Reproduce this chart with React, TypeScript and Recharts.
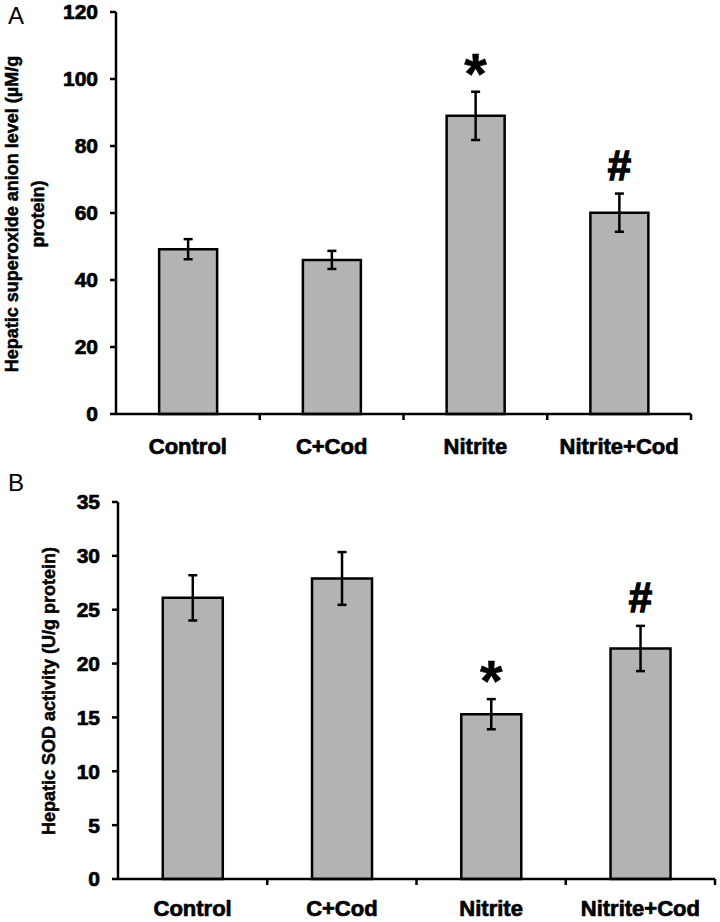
import { BarChart, Bar, XAxis, YAxis, ErrorBar, LabelList } from "recharts";

const groups = ["Control", "C+Cod", "Nitrite", "Nitrite+Cod"];

// panel A: hepatic superoxide anion level
const superoxide = [49.2, 46.0, 89.0, 60.1];
const superoxideErr = [3.0, 2.7, 7.2, 5.7];
const superoxideSig = ["", "", "*", "#"];
const superoxideTicks = [0, 20, 40, 60, 80, 100, 120];

// panel B: hepatic SOD activity
const sod = [26.1, 27.9, 15.3, 21.4];
const sodErr = [2.1, 2.45, 1.4, 2.1];
const sodSig = ["", "", "*", "#"];
const sodTicks = [0, 5, 10, 15, 20, 25, 30, 35];

const FONT = "'Liberation Sans', Arial, sans-serif";
const BAR_FILL = "#b3b3b3";

function makeCategoryTick(labelOffset: number) {
  return (props: any) => {
    const { x, y, payload } = props;
    const half = payload.offset ?? 0;
    return (
      <g>
        <line x1={x + half} x2={x + half} y1={y} y2={y + 6} stroke="#000" strokeWidth={2.5} />
        <text
          x={x}
          y={y + labelOffset}
          textAnchor="middle"
          fontFamily={FONT}
          fontWeight="bold"
          fontSize={22}
          fill="#000"
          stroke="#000"
          strokeWidth={0.7}
        >
          {payload.value}
        </text>
      </g>
    );
  };
}

function makeSigLabel(means: number[], errs: number[]) {
  return (props: any) => {
    const { x, y, width, height, value, index } = props;
    if (!value) return null;
    const perUnit = height / means[index];
    const errTop = y - errs[index] * perUnit;
    const star = value === "*";
    return (
      <text
        x={x + width / 2}
        y={star ? errTop + 2 : errTop - 14}
        textAnchor="middle"
        fontFamily={FONT}
        fontWeight="bold"
        fontSize={star ? 58 : 42}
        fill="#000"
        stroke="#000"
        strokeWidth={star ? 0.5 : 1.4}
      >
        {value}
      </text>
    );
  };
}

interface PanelProps {
  values: number[];
  errs: number[];
  sig: string[];
  ticks: number[];
  height: number;
  margin: { top: number; right: number; bottom: number; left: number };
  yWidth: number;
  xHeight: number;
  labelOffset: number;
  titleLines: { text: string; x: number; y: number }[];
}

function Panel({ values, errs, sig, ticks, height, margin, yWidth, xHeight, labelOffset, titleLines }: PanelProps) {
  const data = groups.map((g, i) => ({ group: g, value: values[i], err: errs[i], sig: sig[i] }));
  const CategoryTick = makeCategoryTick(labelOffset);
  return (
    <BarChart width={720} height={height} data={data} margin={margin} barCategoryGap="30%">
      <XAxis
        dataKey="group"
        height={xHeight}
        interval={0}
        tickSize={0}
        tickMargin={0}
        tickLine={false}
        axisLine={{ stroke: "#000", strokeWidth: 2.5 }}
        tick={<CategoryTick />}
      />
      <YAxis
        type="number"
        width={yWidth}
        domain={[ticks[0], ticks[ticks.length - 1]]}
        ticks={ticks}
        interval={0}
        tickSize={6}
        tickMargin={12}
        axisLine={{ stroke: "#000", strokeWidth: 2.5 }}
        tickLine={{ stroke: "#000", strokeWidth: 2.5 }}
        tick={{ fill: "#000", stroke: "#000", strokeWidth: 0.7, fontFamily: FONT, fontWeight: "bold", fontSize: 21 }}
        label={{
          content: () => (
            <g>
              {titleLines.map((l, i) => (
                <text
                  key={i}
                  x={l.x}
                  y={l.y}
                  transform={`rotate(-90, ${l.x}, ${l.y})`}
                  textAnchor="middle"
                  dominantBaseline="central"
                  fontFamily={FONT}
                  fontWeight="bold"
                  fontSize={18}
                  fill="#000"
                  stroke="#000"
                  strokeWidth={0.5}
                >
                  {l.text}
                </text>
              ))}
            </g>
          ),
        }}
      />
      <Bar dataKey="value" fill={BAR_FILL} stroke="#000" strokeWidth={2.5} isAnimationActive={false}>
        <ErrorBar dataKey="err" direction="y" width={4.5} stroke="#000" strokeWidth={2.5} />
        <LabelList dataKey="sig" content={makeSigLabel(values, errs)} />
      </Bar>
    </BarChart>
  );
}

export default function App() {
  return (
    <div style={{ position: "absolute", left: 0, top: 0, width: 720, height: 922, background: "#fff" }}>
      <div style={{ position: "absolute", left: 0, top: 0 }}>
        <Panel
          values={superoxide}
          errs={superoxideErr}
          sig={superoxideSig}
          ticks={superoxideTicks}
          height={470}
          margin={{ top: 12, right: 29, bottom: 0, left: 0 }}
          yWidth={116}
          xHeight={56}
          labelOffset={40}
          titleLines={[
            { text: "Hepatic superoxide anion level (µM/g", x: 12, y: 214 },
            { text: "protein)", x: 38, y: 214 },
          ]}
        />
      </div>
      <div style={{ position: "absolute", left: 0, top: 460 }}>
        <Panel
          values={sod}
          errs={sodErr}
          sig={sodSig}
          ticks={sodTicks}
          height={462}
          margin={{ top: 42, right: 5, bottom: 0, left: 0 }}
          yWidth={118}
          xHeight={43}
          labelOffset={37}
          titleLines={[{ text: "Hepatic SOD activity (U/g protein)", x: 49, y: 231 }]}
        />
      </div>
      <div style={{ position: "absolute", left: 8, top: 2, fontFamily: FONT, fontSize: 24 }}>A</div>
      <div style={{ position: "absolute", left: 8, top: 469, fontFamily: FONT, fontSize: 24 }}>B</div>
    </div>
  );
}
